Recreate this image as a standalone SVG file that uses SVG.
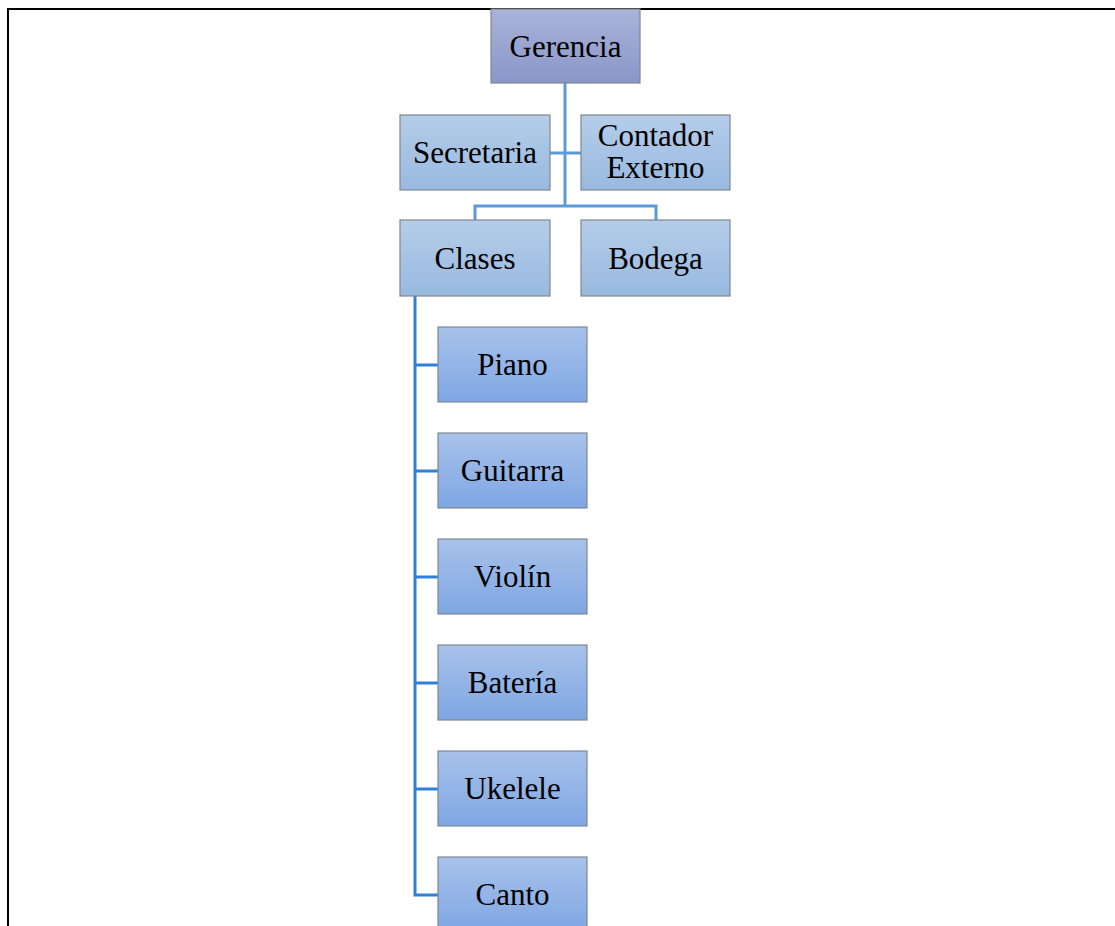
<svg xmlns="http://www.w3.org/2000/svg" width="1115" height="926" viewBox="0 0 1115 926">
<defs>
<linearGradient id="g1" x1="0" y1="0" x2="0" y2="1"><stop offset="0" stop-color="#aab3d9"/><stop offset="1" stop-color="#8996c8"/></linearGradient>
<linearGradient id="g2" x1="0" y1="0" x2="0" y2="1"><stop offset="0" stop-color="#b5cde9"/><stop offset="1" stop-color="#98b9e0"/></linearGradient>
<linearGradient id="g3" x1="0" y1="0" x2="0" y2="1"><stop offset="0" stop-color="#a8c2ea"/><stop offset="1" stop-color="#7ea6e3"/></linearGradient>
</defs>
<style>
.box{stroke:#7f8790;stroke-width:1.2}
.l1{fill:url(#g1)}
.l2{fill:url(#g2)}
.l3{fill:url(#g3)}
.t{font-size:31px;fill:#000;text-anchor:middle}
.c1{stroke:#5b9bd5;stroke-width:3;fill:none}
.c2{stroke:#2f80d8;stroke-width:3;fill:none}
.frame{stroke:#000;stroke-width:2;fill:none}
</style>
<rect width="1115" height="926" fill="#fff"/>
<path class="frame" d="M8,926 V9 H1115"/>
<g id="connectors">
<path class="c1" d="M565,83 V206 M550,153 H581 M475,220 V206 H656 V220"/>
<path class="c2" d="M415,296 V895 H438 M415,365 H438 M415,471 H438 M415,577 H438 M415,683 H438 M415,789 H438"/>
</g>
<g font-family="'Liberation Serif', 'DejaVu Serif', serif">
<g id="gerencia"><rect class="box l1" x="491" y="9" width="149" height="74"/><text class="t" x="565.5" y="57">Gerencia</text></g>
<g id="secretaria"><rect class="box l2" x="400" y="115" width="150" height="75"/><text class="t" x="475" y="163">Secretaria</text></g>
<g id="contador"><rect class="box l2" x="581" y="115" width="149" height="75"/><text class="t" x="655.5" y="146">Contador</text><text class="t" x="655.5" y="178">Externo</text></g>
<g id="clases"><rect class="box l2" x="400" y="220" width="150" height="76"/><text class="t" x="475" y="269">Clases</text></g>
<g id="bodega"><rect class="box l2" x="581" y="220" width="149" height="76"/><text class="t" x="655.5" y="269">Bodega</text></g>
<g id="piano"><rect class="box l3" x="438" y="327" width="149" height="75"/><text class="t" x="512.5" y="375">Piano</text></g>
<g id="guitarra"><rect class="box l3" x="438" y="433" width="149" height="75"/><text class="t" x="512.5" y="481">Guitarra</text></g>
<g id="violin"><rect class="box l3" x="438" y="539" width="149" height="75"/><text class="t" x="512.5" y="587">Violín</text></g>
<g id="bateria"><rect class="box l3" x="438" y="645" width="149" height="75"/><text class="t" x="512.5" y="693">Batería</text></g>
<g id="ukelele"><rect class="box l3" x="438" y="751" width="149" height="75"/><text class="t" x="512.5" y="799">Ukelele</text></g>
<g id="canto"><rect class="box l3" x="438" y="857" width="149" height="75"/><text class="t" x="512.5" y="905">Canto</text></g>
</g>
</svg>
